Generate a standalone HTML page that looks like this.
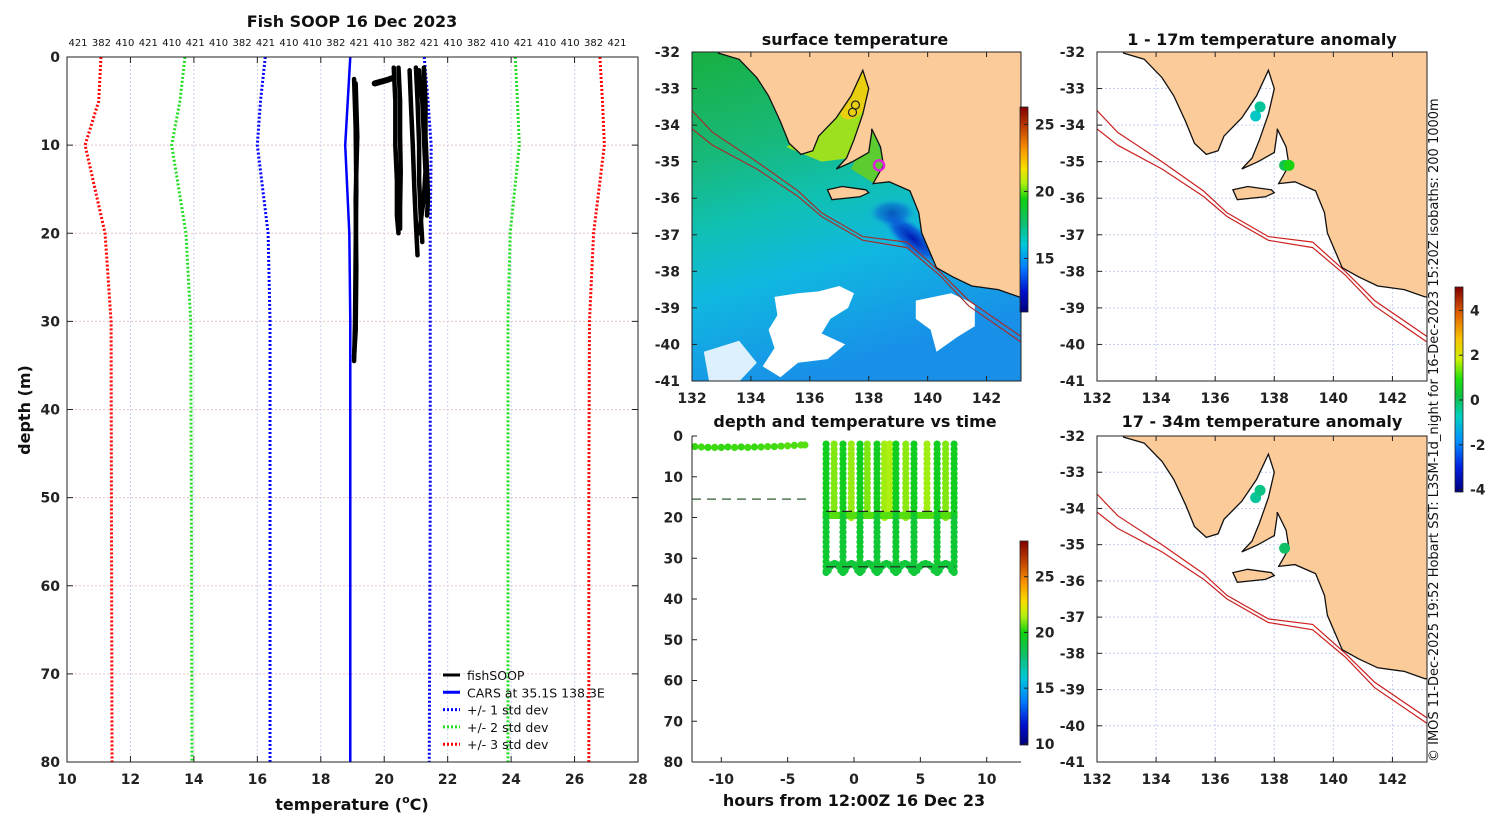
<!DOCTYPE html>
<html><head><meta charset="utf-8">
<style>
html,body{margin:0;padding:0;background:#fff;}
svg{display:block;font-family:"DejaVu Sans","Liberation Sans",sans-serif;}
.t{font-weight:bold;font-size:14px;fill:#222;}
.ttl{font-weight:bold;font-size:16px;fill:#111;}
.sm{font-size:10px;fill:#111;}
.lg{font-size:12.5px;fill:#111;}
</style></head>
<body>
<svg id="fig" width="1500" height="820" viewBox="0 0 1500 820" xmlns="http://www.w3.org/2000/svg">
<defs>
<linearGradient id="sstcb" x1="0" y1="1" x2="0" y2="0">
<stop offset="0" stop-color="#00007a"/><stop offset="0.1" stop-color="#0010d0"/><stop offset="0.22" stop-color="#0080ff"/><stop offset="0.33" stop-color="#00c8d8"/><stop offset="0.45" stop-color="#10c060"/><stop offset="0.55" stop-color="#10d010"/><stop offset="0.63" stop-color="#b0f010"/><stop offset="0.7" stop-color="#f8e000"/><stop offset="0.8" stop-color="#f89000"/><stop offset="0.9" stop-color="#c04000"/><stop offset="1" stop-color="#800000"/>
</linearGradient>
<linearGradient id="anomcb" x1="0" y1="1" x2="0" y2="0">
<stop offset="0" stop-color="#00007a"/><stop offset="0.12" stop-color="#0020e0"/><stop offset="0.25" stop-color="#0090ff"/><stop offset="0.37" stop-color="#00d0c0"/><stop offset="0.47" stop-color="#10c040"/><stop offset="0.55" stop-color="#20e010"/><stop offset="0.65" stop-color="#d0f000"/><stop offset="0.75" stop-color="#f8c000"/><stop offset="0.87" stop-color="#e06000"/><stop offset="1" stop-color="#800000"/>
</linearGradient>
<linearGradient id="sea" x1="0" y1="0" x2="0.3" y2="1">
<stop offset="0" stop-color="#18b040"/><stop offset="0.3" stop-color="#18b878"/><stop offset="0.5" stop-color="#10c0b0"/><stop offset="0.7" stop-color="#10b8e0"/><stop offset="1" stop-color="#1890e8"/>
</linearGradient>
<radialGradient id="upw"><stop offset="0" stop-color="#0018b0"/><stop offset="0.6" stop-color="#0850d8" stop-opacity="0.8"/><stop offset="1" stop-color="#10a0e0" stop-opacity="0"/></radialGradient>
<clipPath id="cTM"><rect x="692" y="52" width="329" height="329"/></clipPath>
<clipPath id="cR1"><rect x="1097" y="52" width="330" height="329"/></clipPath>
<clipPath id="cR2"><rect x="1097" y="436" width="330" height="326"/></clipPath>
<clipPath id="cL"><rect x="67" y="57" width="571" height="705"/></clipPath>
<clipPath id="cTS"><rect x="692" y="436" width="329" height="326"/></clipPath>
</defs>
<g id="root"></g>
</svg>
<script>
// ---------- DATA: left profile chart ----------
const stdDepths = [0, 5, 10, 20, 30, 50, 80];
const caRS = [18.93, 18.85, 18.77, 18.9, 18.93, 18.93, 18.93];
const blueLo = [16.25, 16.1, 16.0, 16.34, 16.4, 16.4, 16.4];
const blueHi = [21.26, 21.38, 21.48, 21.45, 21.45, 21.45, 21.42];
const greenLo = [13.72, 13.56, 13.3, 13.75, 13.9, 13.92, 13.94];
const greenHi = [24.13, 24.2, 24.26, 23.97, 23.9, 23.9, 23.9];
const redLo = [11.07, 11.0, 10.57, 11.2, 11.39, 11.4, 11.42];
const redHi = [26.8, 26.88, 26.94, 26.6, 26.47, 26.45, 26.45];
const fishTemps = [[19.05,19.1,19.12,19.1,19.08,19.05],[19.1,19.15,19.1,19.12,19.1,19.05],[20.3,20.35,20.35,20.4,20.4,20.45],[20.45,20.5,20.5,20.52,20.5,20.5],[20.8,20.85,20.9,20.95,21.0,21.05],[21.0,21.05,21.1,21.1,21.15,21.2],[21.25,21.3,21.3,21.35,21.38,21.35],[21.1,21.2,21.25,21.3,21.25,21.1]];
const fishDepths = [[2.5,8,15,22,30,34.5],[3,9,16,24,31,34],[1.2,5,10,14,18,20],[1.2,5,9,13,17,19.5],[1.5,6,10,15,19,22.5],[1.2,5,10,14,18,21],[1.2,5,9,13,16,18],[1.5,5,9,13,16,20]];
const blobTemps = [19.7, 19.9, 20.1, 20.25];
const blobDepths = [3.0, 2.8, 2.6, 2.4];
const xTicksL = [10,12,14,16,18,20,22,24,26,28];
const yTicksL = [0,10,20,30,40,50,60,70,80];
const topLabels = ["421","382","410","421","410","421","410","382","421","410","410","382","421","410","382","421","410","382","410","421","410","410","382","421"];
// ---------- DATA: time series ----------
const surfTimes = [-12,-11.5,-11,-10.5,-10,-9.5,-9,-8.5,-8,-7.5,-7,-6.5,-6,-5.5,-5,-4.5,-4,-3.7];
const surfDepths = [2.6,2.7,2.8,2.8,2.8,2.7,2.8,2.7,2.8,2.7,2.7,2.6,2.6,2.5,2.4,2.3,2.2,2.2];
const surfTemps = [20.3,20.4,20.3,20.4,20.3,20.3,20.4,20.3,20.4,20.3,20.4,20.5,20.4,20.5,20.6,20.5,20.6,20.6];
const diveTimes = [-2.1,-0.83,0.45,1.73,3.16,4.52,6.26,7.54];
const diveMax = [33.5,33.8,34,33.6,33.2,33.5,34,34.2];
const diveTemps = [19.2,19.1,19.2,19.1,19.2,19.1,19.2,19.1];
const castTimes = [-1.5,-0.2,1.0,2.3,2.7,3.9,5.5,6.9];
const castMax = [19.5,20,19.8,21,19.5,20.5,19.5,20.2];
const castTemps = [21.0,21.2,21.0,21.3,21.4,21.1,21.3,21.0];
const gapDepth = [33.5,33,32,31.5,31.3,31.5,32,33,33.5];
const surfaceRef = 15.5;
const layerRefs = [18.5, 32.1];
const xTicksT = [-10,-5,0,5,10];
const yTicksT = [0,10,20,30,40,50,60,70,80];
// ---------- DATA: maps ----------
const coastLon = [132.9,133.6,134.2,134.6,135.0,135.3,135.7,136.1,136.3,136.9,137.4,137.8,138.0,137.8,137.5,137.25,136.9,137.45,138.0,138.1,138.1,138.4,138.5,138.15,138.7,139.4,139.7,139.8,140.3,140.85,141.5,142.4,143.1];
const coastLat = [-32.03,-32.2,-32.7,-33.2,-33.9,-34.5,-34.8,-34.7,-34.3,-33.8,-33.2,-32.5,-33.0,-33.7,-34.4,-34.9,-35.2,-35.0,-34.75,-34.2,-34.1,-34.6,-35.1,-35.6,-35.55,-35.8,-36.4,-36.95,-37.9,-38.15,-38.4,-38.5,-38.7];
const kiLon = [136.6,137.1,137.9,138.0,137.7,136.75];
const kiLat = [-35.77,-35.68,-35.77,-35.85,-35.96,-36.04];
const isoLon = [132.0,132.7,134.2,135.6,136.4,137.8,139.3,140.4,141.4,143.2];
const isoLat1 = [-33.6,-34.2,-35.0,-35.8,-36.4,-37.05,-37.2,-38.0,-38.8,-39.8];
const isoLat2 = [-34.1,-34.55,-35.2,-35.95,-36.5,-37.15,-37.35,-38.1,-38.95,-39.95];
const anomLon1 = [137.37,137.52,138.35,138.5];
const anomLat1 = [-33.75,-33.5,-35.1,-35.1];
const anomVal1 = [-0.9,-0.5,0.2,1.0];
const anomLon2 = [137.37,137.52,138.35];
const anomLat2 = [-33.7,-33.5,-35.1];
const anomVal2 = [-0.5,-0.3,0.0];
const latTicks = [-32,-33,-34,-35,-36,-37,-38,-39,-40,-41];
const lonTicks = [132,134,136,138,140,142];
const sstTicks = [15,20,25];
const tsCbTicks = [10,15,20,25];
const anomTicks = [-4,-2,0,2,4];

const NS = "http://www.w3.org/2000/svg";
const root = document.getElementById('root');
function mk(tag, attrs, parent, text){
  const e = document.createElementNS(NS, tag);
  for (const k in attrs) e.setAttribute(k, attrs[k]);
  if (text !== undefined) e.textContent = text;
  (parent || root).appendChild(e);
  return e;
}
function grp(name, parent){
  const g = mk('g', {}, parent);
  
  
  return g;
}
function label(parent, x, y, s, cls, anchor, name){
  const t = mk('text', {x:x, y:y, class:cls, 'text-anchor':anchor||'middle'}, parent, s);
  
  
  return t;
}
function lerp(a,b,t){return a+(b-a)*t;}
function cmap(v, lo, hi){
  const stops=[[0,[0,0,122]],[0.1,[0,16,208]],[0.22,[0,128,255]],[0.33,[0,200,216]],[0.45,[16,192,96]],[0.55,[16,208,16]],[0.63,[176,240,16]],[0.7,[248,224,0]],[0.8,[248,144,0]],[0.9,[192,64,0]],[1,[128,0,0]]];
  let t=(v-lo)/(hi-lo); t=Math.max(0,Math.min(1,t));
  for(let i=1;i<stops.length;i++){ if(t<=stops[i][0]){ const a=stops[i-1],b=stops[i]; const u=(t-a[0])/(b[0]-a[0]); return 'rgb('+a[1].map((c,j)=>Math.round(lerp(c,b[1][j],u))).join(',')+')'; } }
  return 'rgb(128,0,0)';
}

// ================= LEFT PANEL =================
const L = {x0:67,x1:638,y0:57,y1:762};
const lx = v => L.x0 + (v-10)/(28-10)*(L.x1-L.x0);
const ly = d => L.y0 + d/80*(L.y1-L.y0);
const gL = grp('profile-chart');
mk('rect',{x:L.x0,y:L.y0,width:L.x1-L.x0,height:L.y1-L.y0,fill:'#fff'},gL);
const gridL = grp('profile-grid', gL);
xTicksL.slice(1,-1).forEach(v=>mk('line',{x1:lx(v),x2:lx(v),y1:L.y0,y2:L.y1,stroke:'#c8d0f0','stroke-width':1,'stroke-dasharray':'2,2'},gridL));
yTicksL.slice(1,-1).forEach(d=>mk('line',{x1:L.x0,x2:L.x1,y1:ly(d),y2:ly(d),stroke:'#e8c8c8','stroke-width':1,'stroke-dasharray':'2,2'},gridL));
const gLc = grp('profile-lines', gL); gLc.setAttribute('clip-path','url(#cL)');
function prof(arr, color, dash, w, name){
  const p = mk('polyline',{points:arr.map((v,i)=>lx(v)+','+ly(stdDepths[i])).join(' '),fill:'none',stroke:color,'stroke-width':w,'stroke-dasharray':dash||''},gLc);
  
  
}
prof(redLo,'#ff0000','2,2',3,'minus-3-std-line');
prof(redHi,'#ff0000','2,2',3,'plus-3-std-line');
prof(greenLo,'#22dd22','2,2',3,'minus-2-std-line');
prof(greenHi,'#22dd22','2,2',3,'plus-2-std-line');
prof(blueLo,'#0000ff','2,2',3,'minus-1-std-line');
prof(blueHi,'#0000ff','2,2',3,'plus-1-std-line');
prof(caRS,'#0000ff','',2.5,'cars-profile-line');
fishTemps.forEach((arr,i)=>{
  const p = mk('polyline',{points:arr.map((v,j)=>lx(v)+','+ly(fishDepths[i][j])).join(' '),fill:'none',stroke:'#000','stroke-width':4.5,'stroke-linejoin':'round','stroke-linecap':'round'},gLc);
  
  
});
{
  const p = mk('polyline',{points:blobTemps.map((v,j)=>lx(v)+','+ly(blobDepths[j])).join(' '),fill:'none',stroke:'#000','stroke-width':6,'stroke-linecap':'round'},gLc);
  
  
}
mk('rect',{x:L.x0,y:L.y0,width:L.x1-L.x0,height:L.y1-L.y0,fill:'none',stroke:'#222','stroke-width':1},gL);
const axL = grp('profile-axes', gL);
xTicksL.forEach(v=>{
  mk('line',{x1:lx(v),x2:lx(v),y1:L.y1,y2:L.y1-6,stroke:'#222'},axL);
  mk('line',{x1:lx(v),x2:lx(v),y1:L.y0,y2:L.y0+6,stroke:'#222'},axL);
  label(axL, lx(v), 784, String(v), 't', 'middle', 'x-tick-label');
});
yTicksL.forEach(d=>{
  mk('line',{x1:L.x0,x2:L.x0+6,y1:ly(d),y2:ly(d),stroke:'#222'},axL);
  mk('line',{x1:L.x1,x2:L.x1-6,y1:ly(d),y2:ly(d),stroke:'#222'},axL);
  label(axL, 60, ly(d)+5, String(d), 't', 'end', 'y-tick-label');
});
topLabels.forEach((s,i)=>label(axL, 78 + i*(617-78)/(topLabels.length-1), 46, s, 'sm', 'middle', 'sample-count-label'));
label(gL, 352, 27, 'Fish SOOP 16 Dec 2023', 'ttl', 'middle', 'profile-title');
{
  const t = mk('text',{x:352,y:810,class:'ttl','text-anchor':'middle'},gL);
   
  t.appendChild(document.createTextNode('temperature ('));
  mk('tspan',{dy:-7,'font-size':'11px'},t,'o');
  mk('tspan',{dy:7},t,'C)');
}
{
  const t = mk('text',{x:0,y:0,class:'ttl','text-anchor':'middle',transform:'translate(30,410) rotate(-90)'},gL,'depth (m)');
   
}
const leg = grp('legend', gL);
const legItems = [['fishSOOP','#000',''],['CARS at 35.1S 138.3E','#0000ff',''],['+/- 1 std dev','#0000ff','2,2'],['+/- 2 std dev','#22dd22','2,2'],['+/- 3 std dev','#ff0000','2,2']];
legItems.forEach((it,i)=>{
  const y = 675 + i*17.3;
  const g = grp('legend-entry', leg);
  mk('line',{x1:443,x2:460,y1:y,y2:y,stroke:it[1],'stroke-width':3,'stroke-dasharray':it[2]},g);
  label(g, 467, y+5, it[0], 'lg', 'start', 'legend-label');
});

// ================= MAPS =================
function mapper(x0,x1,y0,y1){
  const lonR = 143.17;
  return {x:lon=>x0+(lon-132)/(lonR-132)*(x1-x0), y:lat=>y0+(-32-lat)/9*(y1-y0), x0,x1,y0,y1};
}
function landPath(M){
  let d = 'M'+M.x(132.9)+','+(M.y0-10);
  coastLon.forEach((lo,i)=>{ d += ' L'+M.x(lo).toFixed(1)+','+M.y(coastLat[i]).toFixed(1); });
  d += ' L'+(M.x1+10)+','+M.y(-38.7).toFixed(1)+' L'+(M.x1+10)+','+(M.y0-10)+' Z';
  return d;
}
function kiPath(M){ return 'M'+kiLon.map((lo,i)=>M.x(lo).toFixed(1)+','+M.y(kiLat[i]).toFixed(1)).join(' L')+' Z'; }
function drawLand(M, g){
  mk('path',{d:landPath(M),fill:'#fccb9a',stroke:'#111','stroke-width':1.3},g);
  mk('path',{d:kiPath(M),fill:'#fccb9a',stroke:'#111','stroke-width':1.3},g);
}
function drawIso(M,g,color){
  [isoLat1,isoLat2].forEach(arr=>{
    const p = mk('polyline',{points:isoLon.map((lo,i)=>M.x(lo).toFixed(1)+','+M.y(arr[i]).toFixed(1)).join(' '),fill:'none',stroke:color,'stroke-width':1.2},g);
    
    
  });
}
function mapAxes(M,g,labelY){
  mk('rect',{x:M.x0,y:M.y0,width:M.x1-M.x0,height:M.y1-M.y0,fill:'none',stroke:'#222'},g);
  latTicks.forEach(la=>{
    mk('line',{x1:M.x0,x2:M.x0+5,y1:M.y(la),y2:M.y(la),stroke:'#222'},g);
    label(g, M.x0-12, M.y(la)+5, String(la), 't', 'end', 'lat-tick-label');
  });
  lonTicks.forEach(lo=>{
    mk('line',{x1:M.x(lo),x2:M.x(lo),y1:M.y1,y2:M.y1-5,stroke:'#222'},g);
    mk('line',{x1:M.x(lo),x2:M.x(lo),y1:M.y0,y2:M.y0+5,stroke:'#222'},g);
    label(g, M.x(lo), labelY, String(lo), 't', 'middle', 'lon-tick-label');
  });
}
function mapGrid(M,g){
  lonTicks.forEach(lo=>mk('line',{x1:M.x(lo),x2:M.x(lo),y1:M.y0,y2:M.y1,stroke:'#c8d0f0','stroke-dasharray':'2,2'},g));
  latTicks.forEach(la=>mk('line',{x1:M.x0,x2:M.x1,y1:M.y(la),y2:M.y(la),stroke:'#c8d0f0','stroke-dasharray':'2,2'},g));
}

// --- SST map ---
const MT = mapper(692,1021,52,381);
const gTM = grp('sst-map');
const gTMc = grp('sst-field', gTM); gTMc.setAttribute('clip-path','url(#cTM)');
mk('rect',{x:692,y:52,width:329,height:329,fill:'url(#sea)'},gTMc);
mk('path',{d:'M'+MT.x(135.2)+','+MT.y(-34.6)+' L'+MT.x(136.3)+','+MT.y(-34.1)+' L'+MT.x(137.3)+','+MT.y(-33.0)+' L'+MT.x(137.9)+','+MT.y(-32.4)+' L'+MT.x(137.9)+','+MT.y(-33.7)+' L'+MT.x(137.4)+','+MT.y(-34.9)+' L'+MT.x(136.4)+','+MT.y(-35.0)+' Z',fill:'#9ce020'},gTMc);
mk('ellipse',{cx:MT.x(137.6),cy:MT.y(-33.2),rx:14,ry:26,fill:'#e8d010',transform:'rotate(30 '+MT.x(137.6)+' '+MT.y(-33.2)+')'},gTMc);
mk('path',{d:'M'+MT.x(137.4)+','+MT.y(-35.2)+' L'+MT.x(138.1)+','+MT.y(-34.0)+' L'+MT.x(138.6)+','+MT.y(-35.2)+' L'+MT.x(138.2)+','+MT.y(-35.6)+' Z',fill:'#5ccc30'},gTMc);
mk('ellipse',{cx:MT.x(139.5),cy:MT.y(-37.1),rx:40,ry:14,fill:'url(#upw)',transform:'rotate(40 '+MT.x(139.5)+' '+MT.y(-37.1)+')'},gTMc);
mk('ellipse',{cx:MT.x(138.8),cy:MT.y(-36.4),rx:24,ry:14,fill:'url(#upw)',opacity:0.6},gTMc);
const cloud = [[134.8,-38.7],[135.6,-38.6],[136.3,-38.55],[137.0,-38.4],[137.5,-38.6],[137.3,-39.0],[136.7,-39.3],[136.4,-39.7],[137.2,-40.0],[136.6,-40.4],[135.6,-40.5],[135.0,-40.9],[134.4,-40.6],[134.8,-40.1],[134.6,-39.6],[134.9,-39.2]];
mk('path',{d:'M'+cloud.map(p=>MT.x(p[0]).toFixed(1)+','+MT.y(p[1]).toFixed(1)).join(' L')+' Z',fill:'#fff'},gTMc);
const cloud2 = [[139.6,-38.8],[140.8,-38.6],[141.6,-38.9],[141.6,-39.5],[141.0,-39.8],[140.3,-40.2],[140.1,-39.6],[139.6,-39.3]];
mk('path',{d:'M'+cloud2.map(p=>MT.x(p[0]).toFixed(1)+','+MT.y(p[1]).toFixed(1)).join(' L')+' Z',fill:'#fff'},gTMc);
const cloud3 = [[132.4,-40.2],[133.6,-39.9],[134.2,-40.5],[133.5,-41.1],[132.6,-41.1]];
mk('path',{d:'M'+cloud3.map(p=>MT.x(p[0]).toFixed(1)+','+MT.y(p[1]).toFixed(1)).join(' L')+' Z',fill:'#fff',opacity:0.85},gTMc);
drawIso(MT,gTMc,'#a03030');
drawLand(MT,gTMc);
mk('circle',{cx:MT.x(137.45),cy:MT.y(-33.65),r:4,fill:'none',stroke:'#222','stroke-width':1.2},gTMc);
mk('circle',{cx:MT.x(137.55),cy:MT.y(-33.45),r:4,fill:'none',stroke:'#222','stroke-width':1.2},gTMc);
mk('circle',{cx:MT.x(138.35),cy:MT.y(-35.1),r:5,fill:'none',stroke:'#e020e0','stroke-width':2.5},gTMc);
mapAxes(MT,gTM,403);
label(gTM, 855, 45, 'surface temperature', 'ttl', 'middle', 'sst-map-title');
const gCB1 = grp('sst-colorbar');
mk('rect',{x:1020,y:107,width:8,height:205,fill:'url(#sstcb)',stroke:'#222','stroke-width':0.8},gCB1);
const sstY = v => 312 - (v-11)/(26.3-11)*205;
sstTicks.forEach(v=>{ mk('line',{x1:1024,x2:1028,y1:sstY(v),y2:sstY(v),stroke:'#222'},gCB1); label(gCB1,1035,sstY(v)+5,String(v),'t','start','colorbar-tick-label'); });

// --- Anomaly maps ---
function anomMap(M, clip, lons, lats, vals, title, titleY, labelY, name){
  const g = grp(name);
  const gc = grp(name+'-content', g); gc.setAttribute('clip-path','url('+clip+')');
  mk('rect',{x:M.x0,y:M.y0,width:M.x1-M.x0,height:M.y1-M.y0,fill:'#fff'},gc);
  mapGrid(M,gc);
  drawIso(M,gc,'#cc2020');
  drawLand(M,gc);
  lons.forEach((lo,i)=>{
    const c = mk('circle',{cx:M.x(lo),cy:M.y(lats[i]),r:5.5,fill:cmap(vals[i],-4.1,5.1)},gc);
    
    
  });
  mapAxes(M,g,labelY);
  label(g, (M.x0+M.x1)/2, titleY, title, 'ttl', 'middle', name+'-title');
}
const MR1 = mapper(1097,1427,52,381);
const MR2 = mapper(1097,1427,436,762);
anomMap(MR1,'#cR1',anomLon1,anomLat1,anomVal1,'1 - 17m temperature anomaly',45,403,'anomaly-map-shallow');
anomMap(MR2,'#cR2',anomLon2,anomLat2,anomVal2,'17 - 34m temperature anomaly',427,784,'anomaly-map-deep');
const gCB3 = grp('anomaly-colorbar');
mk('rect',{x:1455,y:287,width:8,height:205,fill:'url(#anomcb)',stroke:'#222','stroke-width':0.8},gCB3);
const anY = v => 400 - v*22.4;
anomTicks.forEach(v=>{ mk('line',{x1:1459,x2:1463,y1:anY(v),y2:anY(v),stroke:'#222'},gCB3); label(gCB3,1470,anY(v)+5,String(v),'t','start','colorbar-tick-label'); });
{
  const t = mk('text',{x:0,y:0,'font-size':'13px',fill:'#111','text-anchor':'start',transform:'translate(1438,762) rotate(-90)'},root,'© IMOS 11-Dec-2025 19:52 Hobart SST: L3SM-1d_night for 16-Dec-2023 15:20Z isobaths: 200  1000m');
   
}

// ================= TIME SERIES =================
const T = {x0:692,x1:1021,y0:436,y1:762};
const tx = h => 854 + h*13.27;
const ty = d => T.y0 + d/80*(T.y1-T.y0);
const gT = grp('time-depth-chart');
const gTc = grp('time-depth-points', gT); gTc.setAttribute('clip-path','url(#cTS)');
const tsLo = 9.9, tsHi = 28.2;
function dot(h,d,v){
  const c = mk('circle',{cx:tx(h).toFixed(1),cy:ty(d).toFixed(1),r:3.6,fill:cmap(v,tsLo,tsHi)},gTc);
  
  
}
surfTimes.forEach((h,i)=>dot(h,surfDepths[i],surfTemps[i]));
mk('line',{x1:T.x0,x2:tx(-3.6),y1:ty(surfaceRef),y2:ty(surfaceRef),stroke:'#557755','stroke-width':1.5,'stroke-dasharray':'9,6'},gTc);
castTimes.forEach((h,i)=>{
  for(let d=2; d<=castMax[i]; d+=1.2) dot(h,d,castTemps[i]);
});
for(let k=0;k<diveTimes.length-1;k++){
  const a=diveTimes[k], b=diveTimes[k+1];
  for(let j=0;j<=8;j++){ dot(lerp(a,b,j/8), 19.5, 20.6); }
}
diveTimes.forEach((h,i)=>{
  for(let d=2; d<=diveMax[i]; d+=1.2) dot(h,d, d<19 ? 19.6 : diveTemps[i]);
});
for(let k=0;k<diveTimes.length-1;k++){
  const a=diveTimes[k], b=diveTimes[k+1];
  gapDepth.forEach((d,j)=>dot(lerp(a,b,j/(gapDepth.length-1)), d, 19.0));
}
layerRefs.forEach(d=>mk('line',{x1:tx(-2.1),x2:tx(7.6),y1:ty(d),y2:ty(d),stroke:'#222','stroke-width':1.2,'stroke-dasharray':'10,6'},gTc));
mk('line',{x1:T.x0,x2:T.x0,y1:T.y0,y2:T.y1,stroke:'#222'},gT);
mk('line',{x1:T.x0,x2:T.x1,y1:T.y1,y2:T.y1,stroke:'#222'},gT);
yTicksT.forEach(d=>{ mk('line',{x1:T.x0,x2:T.x0+5,y1:ty(d),y2:ty(d),stroke:'#222'},gT); label(gT,683,ty(d)+5,String(d),'t','end','y-tick-label'); });
xTicksT.forEach(h=>{ mk('line',{x1:tx(h),x2:tx(h),y1:T.y1,y2:T.y1-5,stroke:'#222'},gT); label(gT,tx(h),784,String(h),'t','middle','x-tick-label'); });
label(gT, 855, 427, 'depth and temperature vs time', 'ttl', 'middle', 'time-depth-title');
label(gT, 854, 806, 'hours from 12:00Z 16 Dec 23', 'ttl', 'middle', 'time-axis-title');
const gCB2 = grp('time-depth-colorbar');
mk('rect',{x:1020,y:541,width:8,height:204,fill:'url(#sstcb)',stroke:'#222','stroke-width':0.8},gCB2);
const tcY = v => 745 - (v-tsLo)/(tsHi-tsLo)*204;
tsCbTicks.forEach(v=>{ mk('line',{x1:1024,x2:1028,y1:tcY(v),y2:tcY(v),stroke:'#222'},gCB2); label(gCB2,1035,tcY(v)+5,String(v),'t','start','colorbar-tick-label'); });
</script>
</body></html>
